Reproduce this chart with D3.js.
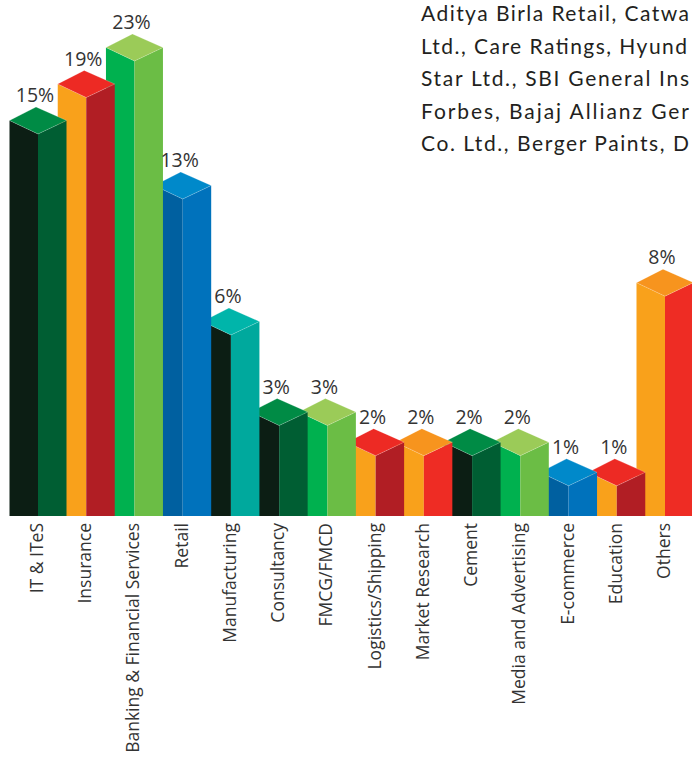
<!DOCTYPE html>
<html><head><meta charset="utf-8">
<script src="https://cdn.jsdelivr.net/npm/d3@7"></script>
<style>html,body{margin:0;padding:0;background:#fff;overflow:hidden}</style>
</head><body>
<svg id="chart" width="692" height="762"></svg>
<script>
// ---- data ----
const categories = ["IT & ITeS","Insurance","Banking & Financial Services","Retail","Manufacturing","Consultancy","FMCG/FMCD","Logistics/Shipping","Market Research","Cement","Media and Advertising","E-commerce","Education","Others"];
const values = [15, 19, 23, 13, 6, 3, 3, 2, 2, 2, 2, 1, 1, 8];
const valueLabels = ["15%","19%","23%","13%","6%","3%","3%","2%","2%","2%","2%","1%","1%","8%"];
// visible part of the (cropped) note in the top-right corner
const noteLines = [
  "Aditya Birla Retail, Catwa",
  "Ltd., Care Ratings, Hyund",
  "Star Ltd., SBI General Ins",
  "Forbes, Bajaj Allianz Ger",
  "Co. Ltd., Berger Paints, D"
];

// ---- styles ----
const themes = {
  darkGreen:  {left:"#0c1e14", right:"#005e33", top:"#008b45"},
  redOrange:  {left:"#f9a11b", right:"#b11e24", top:"#ed2a24"},
  lightGreen: {left:"#00b14f", right:"#6bbd45", top:"#9bcb58"},
  blue:       {left:"#0060a0", right:"#0072bc", top:"#0089ca"},
  teal:       {left:"#0c1e14", right:"#00a99d", top:"#00b5aa"},
  orangeRed:  {left:"#f9a11b", right:"#ee2c24", top:"#f7941e"}
};
const themeSeq = ["darkGreen","redOrange","lightGreen","blue","teal","darkGreen","lightGreen","redOrange","orangeRed","darkGreen","lightGreen","blue","redOrange","orangeRed"];
const noteWidths = [268, 266, 268, 268, 268];

const svg = d3.select("#chart");
const baseY = 516;
const x = d3.scalePoint().domain(categories).range([38, 665]);
const y = d3.scaleLinear().domain([0, 6, 13, 15, 23]).range([baseY, 335, 199, 134, 61]);
const color = d3.scaleOrdinal().domain(categories).range(themeSeq.map(k => themes[k]));

const hw = 28.5, dy = 13.5, skew = 2;

const data = categories.map((c, i) => ({c, v: values[i], label: valueLabels[i]}));

// draw back-to-front (last bar behind)
const bars = svg.append("g").selectAll("g").data(data.slice().reverse()).join("g");
const pts = a => a.map(p => p.join(",")).join(" ");
bars.append("polygon").attr("fill", d => color(d.c).left)
  .attr("points", d => { const cx = x(d.c), t = y(d.v);
    return pts([[cx-hw, t-dy],[cx, t],[cx, baseY],[cx-hw, baseY]]); });
bars.append("polygon").attr("fill", d => color(d.c).right)
  .attr("points", d => { const cx = x(d.c), t = y(d.v);
    return pts([[cx, t],[cx+hw, t-dy],[cx+hw, baseY],[cx, baseY]]); });
bars.append("polygon").attr("fill", d => color(d.c).top)
  .attr("stroke", "rgba(255,255,255,0.35)").attr("stroke-width", 0.6)
  .attr("points", d => { const cx = x(d.c), t = y(d.v);
    return pts([[cx-hw, t-dy],[cx-skew, t-2*dy],[cx+hw, t-dy],[cx, t]]); });

// value labels
svg.append("g").selectAll("text").data(data).join("text")
  .attr("x", d => x(d.c) - skew - 1)
  .attr("y", d => y(d.v) - 2*dy - 5)
  .attr("text-anchor", "middle")
  .attr("font-family", "'Open Sans', sans-serif")
  .attr("font-size", 19.5)
  .attr("fill", "#333")
  .text(d => d.label);

// category labels
svg.append("g").selectAll("text").data(data).join("text")
  .attr("transform", d => `translate(${x(d.c) - 2},523) rotate(-90)`)
  .attr("text-anchor", "end")
  .attr("dominant-baseline", "central")
  .attr("font-family", "'Open Sans', sans-serif")
  .attr("font-size", 17.5)
  .attr("fill", "#333")
  .text(d => d.c);

// note text (cropped at the right edge in the original)
svg.append("g").selectAll("text").data(noteLines).join("text")
  .attr("x", 421)
  .attr("y", (d, i) => 21 + 32.6 * i)
  .attr("font-family", "Lato, sans-serif")
  .attr("font-size", 21)
  .attr("textLength", (d, i) => noteWidths[i])
  .attr("lengthAdjust", "spacing")
  .attr("fill", "#231f20")
  .text(d => d);
</script>
</body></html>
